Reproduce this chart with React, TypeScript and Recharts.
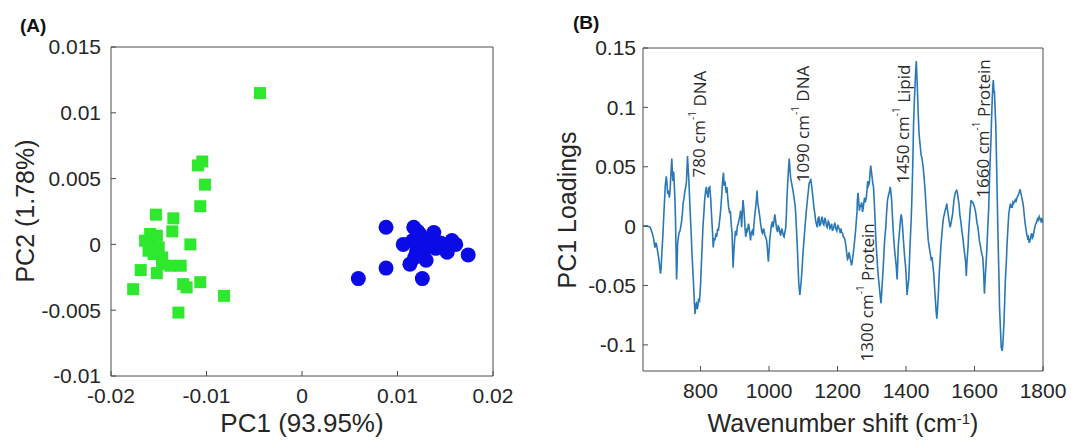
import React from 'react';
import { ScatterChart, Scatter, LineChart, Line, XAxis, YAxis, ReferenceDot } from 'recharts';

// ---------- Panel A: PCA scores ----------
const pc1Ticks = [-0.02, -0.01, 0, 0.01, 0.02];
const pc2Ticks = [-0.01, -0.005, 0, 0.005, 0.01, 0.015];

const greenX = [-0.0044, -0.0109, -0.01044, -0.01016, -0.01065, -0.0153, -0.01347, -0.01358, -0.01169, -0.01643, -0.0159, -0.0152, -0.015, -0.01607, -0.01465, -0.01465, -0.01689, -0.0152, -0.01376, -0.0127, -0.01244, -0.01208, -0.01065, -0.01768, -0.00816, -0.01294, -0.01572, -0.01554];
const greenY = [0.0115, 0.006, 0.0063, 0.00454, 0.0029, 0.00226, 0.00198, 0.00099, 0.0, 0.00028, 0.00079, 0.00066, -0.00023, -0.00048, -0.00099, -0.0015, -0.00195, -0.00218, -0.00162, -0.00162, -0.00302, -0.00327, -0.00287, -0.0034, -0.00391, -0.00518, 0.00015, -0.00074];

const blueX = [0.0088, 0.0059, 0.0088, 0.0106, 0.0117, 0.0113, 0.0126, 0.0138, 0.0123, 0.0131, 0.012, 0.0127, 0.0157, 0.0152, 0.0161, 0.0174, 0.0134, 0.0125, 0.0116, 0.014, 0.0145, 0.0121, 0.013, 0.0118];
const blueY = [0.0013, -0.0026, -0.0018, 0.0, 0.0013, -0.0015, -0.0026, 0.0009, 0.0008, 0.0, -0.0005, -0.0008, 0.0003, -0.0006, 0.0, -0.0008, 0.0004, -0.0001, 0.0003, -0.0003, 0.0001, 0.001, -0.0012, -0.001];

// ---------- Panel B: PC1 loadings ----------
const wnTicks = [800, 1000, 1200, 1400, 1600, 1800];
const loadTicks = [-0.1, -0.05, 0, 0.05, 0.1, 0.15];

const wavenumbers = [632, 645, 653, 658, 662, 667, 670, 672, 675, 677, 680, 683, 685, 687, 690, 692, 695, 697, 700, 702, 704, 706, 709, 711, 713, 716, 718, 719, 721, 722, 725, 727, 728, 730, 731, 733, 735, 737, 740, 742, 745, 747, 749, 752, 754, 757, 759, 761, 762, 764, 766, 768, 770, 773, 775, 778, 780, 782, 784, 786, 788, 790, 792, 794, 797, 800, 802, 805, 807, 810, 812, 815, 817, 819, 822, 824, 827, 830, 832, 835, 837, 840, 842, 845, 847, 850, 852, 855, 857, 860, 862, 865, 867, 869, 872, 875, 877, 880, 882, 885, 887, 890, 892, 895, 898, 900, 902, 905, 907, 910, 912, 915, 917, 919, 920, 922, 924, 926, 928, 930, 932, 935, 937, 940, 942, 944, 946, 948, 951, 954, 956, 958, 961, 963, 965, 967, 969, 971, 973, 975, 977, 979, 981, 984, 986, 988, 990, 993, 995, 998, 1000, 1002, 1005, 1007, 1010, 1012, 1015, 1017, 1020, 1022, 1025, 1027, 1029, 1032, 1034, 1037, 1039, 1042, 1044, 1047, 1049, 1051, 1052, 1054, 1056, 1059, 1061, 1063, 1066, 1068, 1070, 1073, 1076, 1078, 1080, 1083, 1085, 1087, 1090, 1092, 1094, 1097, 1099, 1102, 1105, 1108, 1112, 1115, 1117, 1120, 1122, 1124, 1126, 1129, 1131, 1134, 1136, 1138, 1141, 1143, 1146, 1148, 1151, 1153, 1155, 1158, 1160, 1163, 1165, 1168, 1170, 1173, 1175, 1178, 1180, 1183, 1185, 1189, 1192, 1195, 1198, 1201, 1203, 1206, 1208, 1210, 1212, 1215, 1217, 1220, 1222, 1225, 1227, 1229, 1231, 1234, 1236, 1239, 1241, 1243, 1246, 1248, 1250, 1253, 1255, 1257, 1258, 1260, 1262, 1264, 1266, 1268, 1270, 1271, 1273, 1274, 1277, 1279, 1281, 1284, 1286, 1288, 1290, 1293, 1295, 1297, 1299, 1301, 1303, 1305, 1307, 1309, 1312, 1315, 1317, 1320, 1322, 1325, 1327, 1329, 1331, 1334, 1336, 1338, 1341, 1343, 1346, 1348, 1350, 1352, 1354, 1356, 1358, 1360, 1362, 1364, 1366, 1368, 1370, 1372, 1374, 1376, 1377, 1380, 1382, 1384, 1386, 1388, 1390, 1392, 1394, 1396, 1399, 1401, 1403, 1405, 1408, 1410, 1412, 1415, 1417, 1420, 1422, 1425, 1427, 1429, 1430, 1432, 1434, 1436, 1438, 1440, 1442, 1444, 1446, 1448, 1450, 1452, 1455, 1457, 1460, 1462, 1465, 1467, 1469, 1472, 1474, 1476, 1478, 1481, 1483, 1486, 1488, 1490, 1492, 1495, 1497, 1500, 1502, 1505, 1507, 1510, 1512, 1514, 1517, 1519, 1521, 1524, 1526, 1529, 1531, 1533, 1536, 1538, 1540, 1543, 1545, 1548, 1550, 1552, 1555, 1557, 1560, 1562, 1564, 1567, 1569, 1571, 1574, 1576, 1578, 1581, 1583, 1586, 1588, 1590, 1593, 1595, 1598, 1600, 1603, 1605, 1607, 1610, 1612, 1614, 1617, 1619, 1622, 1624, 1626, 1629, 1631, 1633, 1636, 1638, 1641, 1643, 1645, 1648, 1650, 1652, 1654, 1655, 1657, 1658, 1660, 1662, 1664, 1666, 1668, 1670, 1672, 1673, 1676, 1678, 1681, 1683, 1686, 1688, 1690, 1693, 1695, 1698, 1700, 1703, 1705, 1707, 1710, 1712, 1714, 1717, 1719, 1721, 1724, 1726, 1729, 1731, 1733, 1736, 1738, 1741, 1743, 1745, 1748, 1750, 1752, 1755, 1757, 1760, 1762, 1765, 1767, 1769, 1771, 1774, 1776, 1779, 1781, 1784, 1786, 1789, 1791, 1794, 1796, 1798, 1800];
const loadings = [0, 0, -0.001, -0.005, -0.009, -0.018, -0.014, -0.016, -0.022, -0.025, -0.032, -0.04, -0.035, -0.023, -0.008, 0.005, 0.022, 0.034, 0.042, 0.036, 0.027, 0.03, 0.024, 0.03, 0.041, 0.057, 0.045, 0.038, 0.046, 0.044, 0.024, 0.005, -0.012, -0.045, -0.038, -0.015, -0.01, -0.006, -0.004, -0.001, 0.005, 0.01, 0.019, 0.024, 0.029, 0.033, 0.038, 0.052, 0.059, 0.048, 0.038, 0.024, 0.01, -0.008, -0.023, -0.04, -0.051, -0.064, -0.074, -0.066, -0.065, -0.07, -0.068, -0.062, -0.063, -0.05, -0.035, -0.015, -0.001, 0.012, 0.022, 0.03, 0.033, 0.028, 0.024, 0.032, 0.033, 0.022, 0.01, -0.005, -0.018, -0.01, -0.012, -0.006, -0.009, -0.002, -0.004, 0.003, 0.008, 0.018, 0.027, 0.04, 0.045, 0.034, 0.036, 0.028, 0.033, 0.022, 0.016, 0.011, 0.013, 0, -0.006, -0.035, -0.018, -0.01, -0.004, -0.008, -0.001, 0.002, 0.005, 0.009, 0.013, 0.004, -0.001, 0.012, 0.022, 0.016, 0.008, -0.002, -0.009, -0.003, -0.004, 0.002, -0.001, -0.006, -0.012, -0.006, -0.004, -0.008, 0.002, 0.008, 0.016, 0.022, 0.03, 0.02, 0.016, 0.012, 0.008, 0.003, -0.001, -0.005, -0.006, -0.002, -0.004, -0.008, -0.009, -0.012, -0.018, -0.03, -0.022, -0.012, -0.004, 0.001, 0.004, -0.001, 0.005, 0.01, 0.003, -0.002, -0.005, 0, -0.001, -0.006, -0.008, -0.002, -0.004, -0.008, -0.009, -0.004, -0.001, 0.012, 0.022, 0.033, 0.044, 0.057, 0.048, 0.041, 0.036, 0.033, 0.03, 0.024, 0.018, 0.01, -0.002, -0.02, -0.035, -0.049, -0.058, -0.052, -0.046, -0.034, -0.023, -0.012, -0.001, 0.01, 0.022, 0.03, 0.036, 0.038, 0.039, 0.035, 0.03, 0.022, 0.016, 0.01, 0.005, 0.002, -0.001, 0.006, 0.008, 0, 0.002, 0.006, 0.008, 0.002, 0.001, 0.007, 0.005, 0, -0.001, 0.004, 0.003, -0.002, -0.001, 0.002, -0.004, -0.001, 0.003, -0.002, -0.004, 0.001, -0.001, -0.003, -0.006, -0.002, -0.005, -0.006, -0.009, -0.01, -0.012, -0.018, -0.023, -0.028, -0.027, -0.022, -0.026, -0.03, -0.033, -0.03, -0.023, -0.018, -0.012, -0.003, 0.005, 0.012, 0.022, 0.028, 0.02, 0.013, 0.018, 0.016, 0.02, 0.019, 0.012, 0.013, 0.02, 0.024, 0.02, 0.024, 0.03, 0.038, 0.034, 0.036, 0.045, 0.051, 0.046, 0.041, 0.036, 0.033, 0.022, 0.01, -0.012, -0.025, -0.035, -0.045, -0.051, -0.06, -0.065, -0.056, -0.046, -0.032, -0.02, -0.01, -0.001, 0.01, 0.022, 0.025, 0.027, 0.03, 0.033, 0.028, 0.022, 0.01, -0.001, -0.01, -0.018, -0.024, -0.029, -0.036, -0.045, -0.03, -0.018, -0.008, -0.001, 0.006, 0.01, 0.006, -0.001, -0.01, -0.018, -0.026, -0.035, -0.045, -0.058, -0.052, -0.045, -0.03, -0.015, 0.005, 0.022, 0.055, 0.086, 0.11, 0.123, 0.135, 0.139, 0.125, 0.109, 0.092, 0.078, 0.072, 0.066, 0.06, 0.058, 0.054, 0.05, 0.044, 0.033, 0.024, 0.01, 0, -0.012, -0.016, -0.02, -0.025, -0.029, -0.026, -0.032, -0.04, -0.05, -0.063, -0.072, -0.078, -0.07, -0.054, -0.04, -0.026, -0.016, -0.006, 0.001, 0.008, 0.01, 0.013, 0.016, 0.019, 0.014, 0.008, 0.004, -0.001, 0.002, 0.005, 0.01, 0.016, 0.022, 0.027, 0.029, 0.03, 0.028, 0.024, 0.018, 0.01, 0.004, -0.001, -0.006, -0.012, -0.018, -0.023, -0.03, -0.042, -0.03, -0.018, -0.005, 0.008, 0.016, 0.022, 0.02, 0.02, 0.018, 0.016, 0.012, 0.008, 0.003, -0.001, -0.006, -0.012, -0.016, -0.02, -0.024, -0.026, -0.035, -0.057, -0.045, -0.035, -0.02, -0.006, 0.012, 0.03, 0.05, 0.072, 0.092, 0.109, 0.12, 0.123, 0.112, 0.114, 0.1, 0.086, 0.06, 0.03, 0, -0.026, -0.05, -0.068, -0.088, -0.102, -0.105, -0.098, -0.082, -0.064, -0.046, -0.03, -0.015, 0, 0.01, 0.016, 0.019, 0.016, 0.016, 0.02, 0.019, 0.021, 0.022, 0.02, 0.024, 0.025, 0.027, 0.029, 0.031, 0.027, 0.024, 0.02, 0.016, 0.01, 0.002, -0.002, -0.006, -0.01, -0.009, -0.014, -0.012, -0.008, -0.006, -0.01, -0.009, -0.004, -0.001, 0.002, 0.003, 0.006, 0.005, 0.008, 0.006, 0.004, 0.007, 0.004, 0.003];

const peakWn = [795, 1097, 1286, 1390, 1624];
const peakAnchor = [0.041, 0.037, -0.114, 0.036, 0.024];
const peakNumber = ['780', '1090', '1300', '1450', '1660'];
const peakName = ['DNA', 'DNA', 'Protein', 'Lipid', 'Protein'];

const greenData = greenX.map((x, i) => ({ x, y: greenY[i] }));
const blueData = blueX.map((x, i) => ({ x, y: blueY[i] }));
const spectrum = wavenumbers.map((wn, i) => ({ wn, v: loadings[i] }));

const AXIS = '#4d4d4d';
const TXT = '#262626';
const FONT = 'Liberation Sans, Arial, sans-serif';
const tickStyle = { fontSize: 21, fill: TXT, fontFamily: FONT };

const Square = (p: any) => <rect x={p.cx - 6} y={p.cy - 6} width={12} height={12} fill="#2ee82e" />;
const Disc = (p: any) => <circle cx={p.cx} cy={p.cy} r={7.5} fill="#0b0be6" />;

const PeakText = (p: any) => {
  const { cx, cy, num, name } = p;
  if (cx == null || cy == null) return null;
  return (
    <text
      x={cx}
      y={cy}
      transform={`rotate(-90 ${cx} ${cy})`}
      textAnchor="start"
      dominantBaseline="central"
      fontSize={17}
      fill="#2b2b2b"
      fontFamily="Open Sans, Noto Sans, sans-serif"
    >
      {num} cm<tspan baselineShift="super" fontSize={10}>-1</tspan>
      <tspan> {name}</tspan>
    </text>
  );
};

export default function App() {
  return (
    <div style={{ position: 'absolute', left: 0, top: 0, width: 1071, height: 441, background: '#fff', overflow: 'hidden' }}>
      <div style={{ position: 'absolute', left: 0, top: 0 }}>
        <ScatterChart width={540} height={441} margin={{ top: 46, right: 46, bottom: 0, left: 0 }}>
          <XAxis type="number" dataKey="x" domain={[-0.02, 0.02]} ticks={pc1Ticks} allowDataOverflow interval={0}
            height={65} stroke={AXIS} tickSize={-5} tickMargin={17} tick={tickStyle} />
          <YAxis type="number" dataKey="y" domain={[-0.01, 0.015]} ticks={pc2Ticks} allowDataOverflow interval={0}
            width={111} stroke={AXIS} tickSize={-5} tickMargin={15} tick={tickStyle} />
          <XAxis xAxisId="top" orientation="top" type="number" dataKey="x" domain={[-0.02, 0.02]} ticks={pc1Ticks}
            allowDataOverflow interval={0} height={1} stroke={AXIS} tickSize={-5} tick={false} />
          <YAxis yAxisId="right" orientation="right" type="number" dataKey="y" domain={[-0.01, 0.015]} ticks={pc2Ticks}
            allowDataOverflow interval={0} width={1} stroke={AXIS} tickSize={-5} tick={false} />
          <Scatter data={greenData} shape={Square} isAnimationActive={false} />
          <Scatter data={blueData} shape={Disc} isAnimationActive={false} />
          <text x={20} y={32} fontSize={19} fontWeight="bold" fontFamily={FONT} fill="#111">(A)</text>
          <text x={302} y={432} fontSize={26} textAnchor="middle" fontFamily={FONT} fill={TXT}>PC1 (93.95%)</text>
          <text x={34} y={211} fontSize={25} textAnchor="middle" fontFamily={FONT} fill={TXT} transform="rotate(-90 34 211)">PC2 (1.78%)</text>
        </ScatterChart>
      </div>
      <div style={{ position: 'absolute', left: 540, top: 0 }}>
        <LineChart width={531} height={441} data={spectrum} margin={{ top: 47, right: 27, bottom: 0, left: 0 }}>
          <XAxis type="number" dataKey="wn" domain={[632, 1800]} ticks={wnTicks} allowDataOverflow interval={0}
            height={70} stroke={AXIS} tickSize={-5} tickMargin={17} tick={tickStyle} />
          <YAxis type="number" domain={[-0.122, 0.15]} ticks={loadTicks} allowDataOverflow interval={0}
            width={103} stroke={AXIS} tickSize={-5} tickMargin={12} tick={tickStyle} />
          <XAxis xAxisId="top" orientation="top" type="number" dataKey="wn" domain={[632, 1800]} ticks={wnTicks}
            allowDataOverflow interval={0} height={1} stroke={AXIS} tickSize={-5} tick={false} />
          <YAxis yAxisId="right" orientation="right" type="number" domain={[-0.122, 0.15]} ticks={loadTicks}
            allowDataOverflow interval={0} width={1} stroke={AXIS} tickSize={-5} tick={false} />
          <Line type="linear" dataKey="v" stroke="#2a78b6" strokeWidth={1.6} dot={false} isAnimationActive={false} />
          {peakWn.map((w, i) => (
            <ReferenceDot key={i} x={w} y={peakAnchor[i]} r={0} ifOverflow="visible"
              shape={(p: any) => <PeakText {...p} num={peakNumber[i]} name={peakName[i]} />} />
          ))}
          <text x={33} y={29} fontSize={19} fontWeight="bold" fontFamily={FONT} fill="#111">(B)</text>
          <text x={303} y={432} fontSize={25} textAnchor="middle" fontFamily={FONT} fill={TXT}>
            Wavenumber shift (cm<tspan baselineShift="super" fontSize={15}>-1</tspan>)
          </text>
          <text x={36} y={210} fontSize={25} textAnchor="middle" fontFamily={FONT} fill={TXT} transform="rotate(-90 36 210)">PC1 Loadings</text>
        </LineChart>
      </div>
    </div>
  );
}
